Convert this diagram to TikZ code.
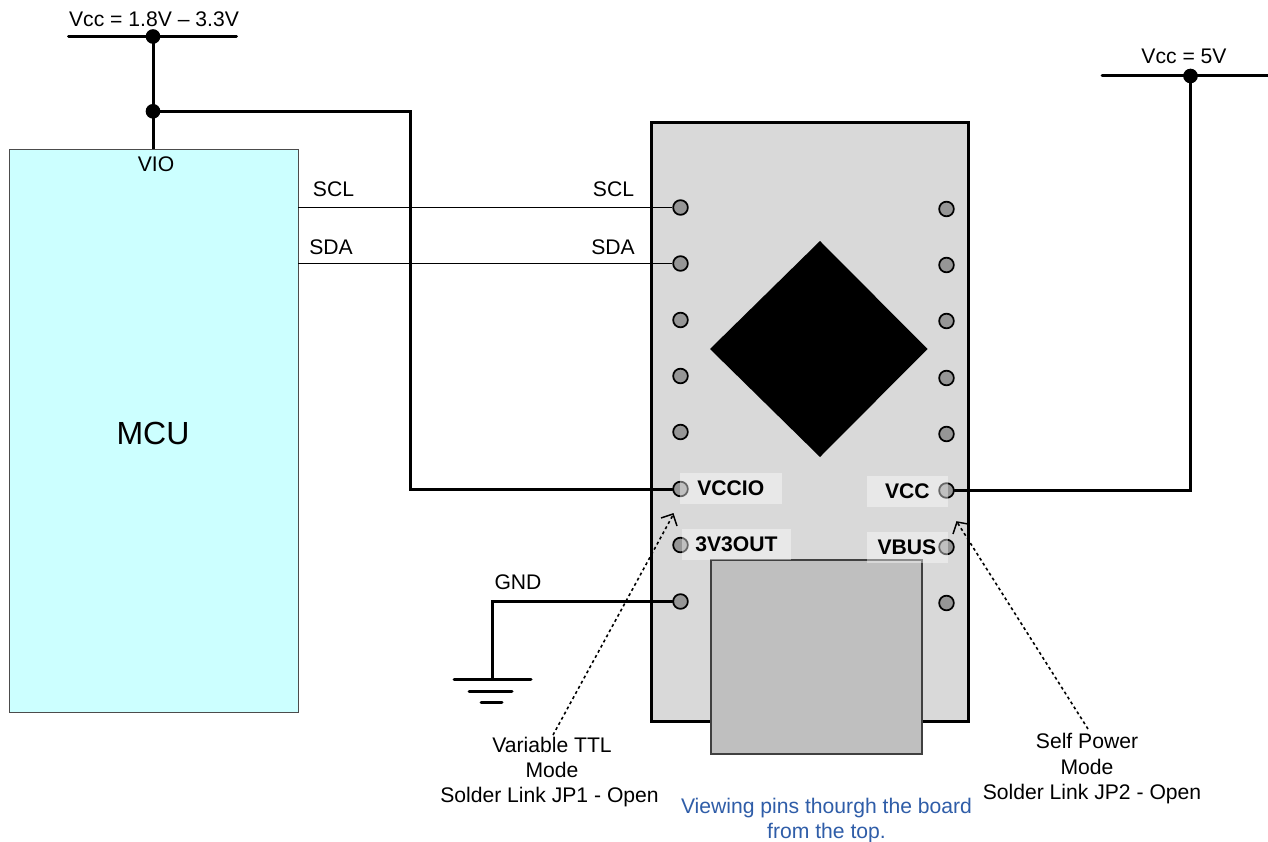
\documentclass[tikz,border=0pt]{standalone}
\usepackage{fontspec}
\setmainfont{Liberation Sans}
\definecolor{mcuc}{HTML}{CCFFFF}
\definecolor{boardc}{HTML}{D9D9D9}
\definecolor{usbc}{HTML}{BFBFBF}
\definecolor{padc}{HTML}{969696}
\definecolor{bluec}{HTML}{2F5DA8}
\begin{document}
\begin{tikzpicture}[x=0.75pt,y=-0.75pt,
  wire/.style={line width=2.25pt,line cap=round,line join=miter},
  sig/.style={line width=1.3pt},
  dotted link/.style={line width=1.2pt,dash pattern=on 2.2pt off 2.2pt},
  head/.style={line width=1.1pt},
  pad/.style={circle,draw=black,line width=1.3pt,fill=padc,minimum size=11pt,inner sep=0pt},
  jn/.style={circle,fill=black,minimum size=11pt,inner sep=0pt},
  txt/.style={inner sep=0pt,font=\fontsize{15.85}{15.85}\selectfont,align=center},
  big/.style={inner sep=0pt,font=\fontsize{24}{24}\selectfont},
  pinl/.style={inner sep=0pt,font=\fontsize{15.85}{15.85}\selectfont\bfseries},
  veil/.style={fill=white,fill opacity=0.4,draw=none},
  block/.style={anchor=north west,inner sep=0pt,outer sep=0pt}]
\useasboundingbox (0,0) rectangle (1268,842);
\fill[white] (0,0) rectangle (1268,842);
% MCU
\node[block,draw=black!70,line width=0.6pt,fill=mcuc,minimum width=216.75pt,minimum height=422.25pt] (mcu) at (9,149.5) {};
\node[big] (mcutxt) at (153,433) {MCU};
\node[txt] (vio) at (156,164) {VIO};
% board
\node[block,draw=black,line width=2.25pt,fill=boardc,minimum width=237.75pt,minimum height=449.5pt] (board) at (651.5,122.5) {};
\node[block,draw=black!75,line width=1.1pt,fill=usbc,minimum width=158.25pt,minimum height=145.5pt] (usb) at (711,560) {};
\fill[black] (820,241) -- (927.5,349) -- (820,457) -- (710,349) -- cycle;
% pads
\foreach \n/\y in {1/207.5,2/263.5,3/320,4/376,5/432,6/489,7/545,8/601.5}
  \node[pad] (l\n) at (680.5,\y) {};
\foreach \n/\y in {1/209,2/265,3/321,4/378,5/434,6/490.5,7/547,8/603}
  \node[pad] (r\n) at (946.5,\y) {};
% power left
\coordinate (vl) at (68.5,36.5);
\coordinate (vr) at (236.5,36.5);
\node[jn] (j1) at (153,36.5) {};
\node[jn] (j2) at (153,111.3) {};
\coordinate (c1) at (410,111.3);
\coordinate (c2) at (410,489);
\draw[wire] (vl) -- (vr);
\draw[wire,line cap=butt] (j1.center) -- (153,149);
\draw[wire,line join=miter] (j2.center) -- (c1) -- (c2) -- (l6);
\node[txt] (vcc1) at (154,19) {Vcc = 1.8V – 3.3V};
% signals
\coordinate (sclm) at (298,207.5);
\coordinate (sdam) at (298,263.5);
\draw[sig] (sclm) -- (l1);
\draw[sig] (sdam) -- (l2);
\node[txt] (scla) at (333.5,189) {SCL};
\node[txt] (sdaa) at (331,247) {SDA};
\node[txt] (sclb) at (613.5,189) {SCL};
\node[txt] (sdab) at (613,247) {SDA};
% power right
\coordinate (v5l) at (1102,76);
\coordinate (v5r) at (1268,76);
\node[jn] (j3) at (1190.5,76) {};
\coordinate (c3) at (1190.5,490.5);
\draw[wire] (v5l) -- (v5r);
\draw[wire] (j3.center) -- (c3) -- (r6);
\node[txt] (vcc2) at (1184,56) {Vcc = 5V};
% ground
\coordinate (g0) at (492,601.5);
\coordinate (g1) at (492,679);
\draw[wire] (l8) -- (g0) -- (g1);
\node[txt] (gnd) at (518,582) {GND};
\coordinate (ga) at (454,679.5);
\coordinate (gb) at (531,679.5);
\coordinate (gc) at (469,691);
\coordinate (gd) at (512,691);
\coordinate (ge) at (481,702.5);
\coordinate (gf) at (502,702.5);
\draw[wire] (ga) -- (gb);
\draw[wire] (gc) -- (gd);
\draw[wire] (ge) -- (gf);
% pin label veils
\fill[veil] (680,473) rectangle (782,504);
\fill[veil] (682,529) rectangle (791,560);
\fill[veil] (867,476) rectangle (948,507);
\fill[veil] (867,532) rectangle (948,563);
\node[pinl,anchor=west] (pvccio) at (697,488) {VCCIO};
\node[pinl,anchor=west] (p3v3) at (695,544) {3V3OUT};
\node[pinl,anchor=east] (pvcc) at (930,491) {VCC};
\node[pinl,anchor=east] (pvbus) at (936.5,547) {VBUS};
% notes
\node[txt] (n1a) at (552,745) {Variable TTL};
\node[txt] (n1b) at (552,770) {Mode};
\node[txt] (n1c) at (549.5,797) {Solder Link JP1 - Open};
\node[txt] (n2a) at (1087,741) {Self Power};
\node[txt] (n2b) at (1087,767) {Mode};
\node[txt] (n2c) at (1092,794) {Solder Link JP2 - Open};
\node[txt,text=bluec] (note3) at (826.5,820.5) {Viewing pins thourgh the board\\[3.5pt]from the top.};
\coordinate (t1) at (673,515);
\coordinate (t2) at (957,522);
\draw[dotted link] (553,735) -- (t1);
\draw[dotted link] (1088,729) -- (t2);
\draw[head] (661,518) -- (673,514) -- (677,526);
\draw[head] (953,534) -- (957,522) -- (968,524);
\end{tikzpicture}
\end{document}
